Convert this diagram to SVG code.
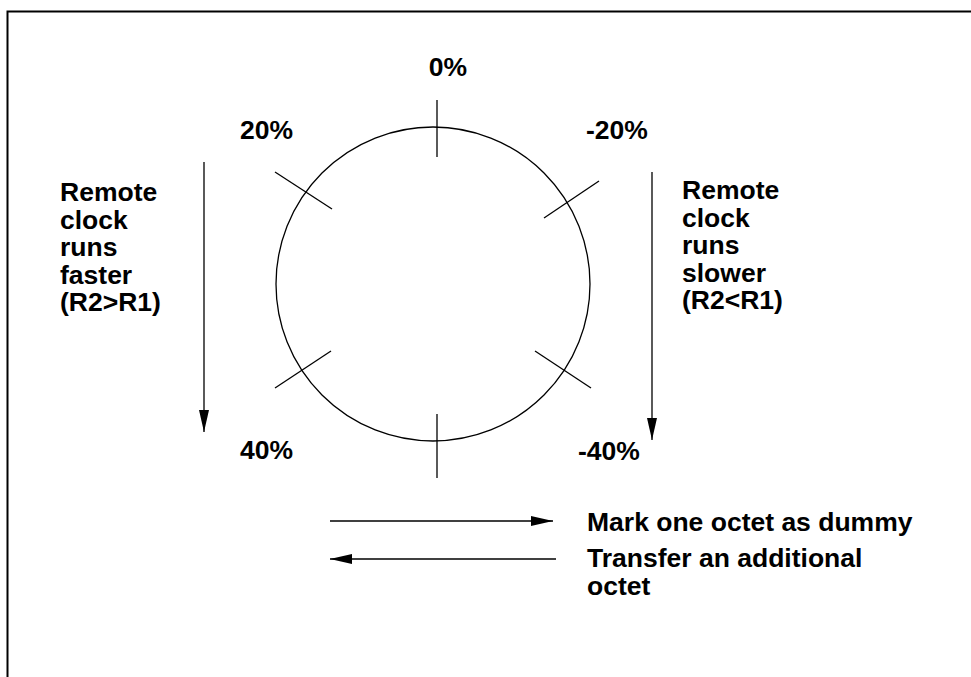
<svg xmlns="http://www.w3.org/2000/svg" width="971" height="677" viewBox="0 0 971 677">
<defs>
<style>
.t{font-family:"Liberation Sans",Arial,sans-serif;font-weight:bold;font-size:26.5px;fill:#000}
.l{stroke:#000;stroke-width:1.3;fill:none}
.b{stroke:#000;stroke-width:2;fill:none}
</style>
<marker id="ah" viewBox="0 0 22 10" refX="22" refY="5" markerWidth="22" markerHeight="10" markerUnits="userSpaceOnUse" orient="auto">
<path d="M0,0 L22,5 L0,10 Z" fill="#000"/>
</marker>
</defs>
<rect width="971" height="677" fill="#fff"/>
<path class="b" d="M7.5,677 V11.5 H971"/>
<g id="dial">
<circle class="l" cx="433" cy="284" r="157"/>
<line class="l" x1="437" y1="100" x2="437" y2="157"/>
<line class="l" x1="437" y1="414" x2="437" y2="478"/>
<line class="l" x1="275" y1="172" x2="332" y2="209"/>
<line class="l" x1="599" y1="181" x2="544" y2="218"/>
<line class="l" x1="331" y1="351" x2="275" y2="388"/>
<line class="l" x1="535" y1="351" x2="591" y2="388"/>
</g>
<g id="labels">
<text class="t" x="448" y="76" text-anchor="middle">0%</text>
<text class="t" x="240" y="139">20%</text>
<text class="t" x="586" y="139">-20%</text>
<text class="t" x="240" y="459">40%</text>
<text class="t" x="578" y="460">-40%</text>
</g>
<g id="left-text">
<text class="t" x="60" y="201">Remote<tspan x="60" dy="27.5">clock</tspan><tspan x="60" dy="27.5">runs</tspan><tspan x="60" dy="27.5">faster</tspan><tspan x="60" dy="27.5">(R2&gt;R1)</tspan></text>
</g>
<g id="right-text">
<text class="t" x="682" y="199">Remote<tspan x="682" dy="27.5">clock</tspan><tspan x="682" dy="27.5">runs</tspan><tspan x="682" dy="27.5">slower</tspan><tspan x="682" dy="27.5">(R2&lt;R1)</tspan></text>
</g>
<g id="legend">
<text class="t" x="587" y="531">Mark one octet as dummy</text>
<text class="t" x="587" y="567">Transfer an additional<tspan x="587" dy="28">octet</tspan></text>
</g>
<g id="connectors">
<line class="l" x1="204" y1="162" x2="204" y2="432" marker-end="url(#ah)"/>
<line class="l" x1="652" y1="172" x2="652" y2="440" marker-end="url(#ah)"/>
<line class="l" x1="330" y1="521" x2="553" y2="521" marker-end="url(#ah)"/>
<line class="l" x1="556" y1="559" x2="330" y2="559" marker-end="url(#ah)"/>
</g>
</svg>
